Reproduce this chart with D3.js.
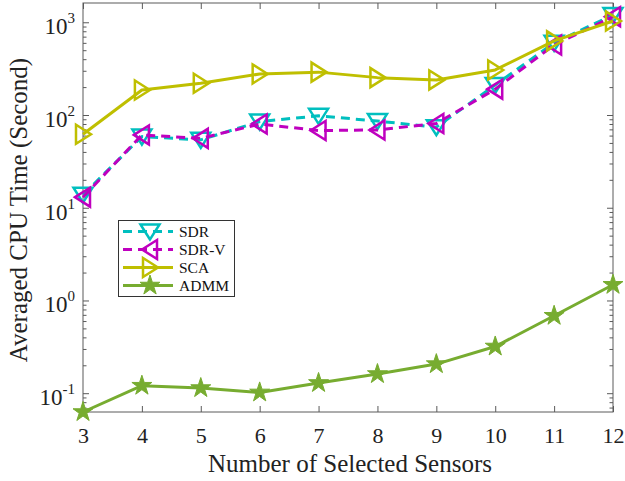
<!DOCTYPE html>
<html><head><meta charset="utf-8">
<script src="https://cdn.jsdelivr.net/npm/d3@7"></script>
<style>
html,body{margin:0;padding:0;background:#fff;}
svg{display:block;font-family:"Liberation Serif","Times New Roman",serif;}
</style></head>
<body><svg id="chart" width="625" height="481"></svg>
<script>
const categories = [3, 4, 5, 6, 7, 8, 9, 10, 11, 12];
const sdr   = [13.8, 58.5, 54, 85, 98, 86, 74, 211, 600, 1200];
const sdrV  = [13, 61, 56, 80, 68, 69, 81, 190, 569, 1150];
const sca   = [62, 186, 220, 277, 290, 253, 239, 306, 630, 1033];
const admm  = [0.0627, 0.1205, 0.1137, 0.102, 0.129, 0.161, 0.206, 0.319, 0.684, 1.476];
const seriesNames = ["SDR", "SDR-V", "SCA", "ADMM"];
const yDecades = [-1, 0, 1, 2, 3];

const svg = d3.select("#chart");
const L = 83, R = 613, T = 3, B = 412;
const x = d3.scaleLinear().domain([3, 12]).range([L, R]);
const y = d3.scaleLog().domain([0.0627, 1614]).range([B, T]);

const series = [
  {name: seriesNames[0], data: sdr,  color: "#00BFBF", dash: "9,6", marker: "down"},
  {name: seriesNames[1], data: sdrV, color: "#BF00BF", dash: "9,6", marker: "left"},
  {name: seriesNames[2], data: sca,  color: "#BFBF00", dash: null,  marker: "right"},
  {name: seriesNames[3], data: admm, color: "#77AC30", dash: null,  marker: "star"}
];

function markerPath(type) {
  if (type === "star") {
    const Ro = 10.5, Ri = Ro * 0.382; let pts = [];
    for (let i = 0; i < 10; i++) {
      const r = i % 2 ? Ri : Ro;
      const a = -Math.PI / 2 + i * Math.PI / 5;
      pts.push([r * Math.cos(a), r * Math.sin(a)]);
    }
    return "M" + pts.map(p => p.join(",")).join("L") + "Z";
  }
  const a = 8, b = 7, h = 9.5;
  let pts;
  if (type === "right") pts = [[a, 0], [-b, -h], [-b, h]];
  else if (type === "left") pts = [[-a, 0], [b, -h], [b, h]];
  else pts = [[0, a], [-h, -b], [h, -b]];
  return "M" + pts.map(p => p.join(",")).join("L") + "Z";
}

// axes box
const axisColor = "#5a5a5a";
svg.append("rect").attr("x", L).attr("y", T).attr("width", R - L).attr("height", B - T)
  .attr("fill", "none").attr("stroke", axisColor).attr("stroke-width", 1);

// x ticks (bottom & top, inward)
const xAxisB = d3.axisBottom(x).tickValues(categories).tickSizeInner(-6).tickSizeOuter(0).tickPadding(15).tickFormat(d3.format("d"));
const gxb = svg.append("g").attr("transform", `translate(0,${B})`).call(xAxisB);
gxb.select(".domain").remove();
gxb.selectAll("line").attr("stroke", axisColor);
gxb.selectAll("text").attr("font-size", 22).attr("fill", "#222").attr("font-family", "Liberation Serif");
const gxt = svg.append("g").attr("transform", `translate(0,${T})`).call(d3.axisTop(x).tickValues(categories).tickSizeInner(-6).tickSizeOuter(0).tickFormat(""));
gxt.select(".domain").remove();
gxt.selectAll("line").attr("stroke", axisColor);

// y ticks: major + minor, left & right
const majors = yDecades.map(e => Math.pow(10, e));
const minors = [];
[-2, -1, 0, 1, 2, 3].forEach(e => { for (let k = 2; k <= 9; k++) { const v = k * Math.pow(10, e); if (v >= y.domain()[0] && v <= y.domain()[1]) minors.push(v); } });
function yTicks(vals, len) {
  const g1 = svg.append("g").attr("transform", `translate(${L},0)`).call(d3.axisLeft(y).tickValues(vals).tickSizeInner(-len).tickSizeOuter(0).tickFormat(""));
  const g2 = svg.append("g").attr("transform", `translate(${R},0)`).call(d3.axisRight(y).tickValues(vals).tickSizeInner(-len).tickSizeOuter(0).tickFormat(""));
  [g1, g2].forEach(g => { g.select(".domain").remove(); g.selectAll("line").attr("stroke", axisColor); });
}
yTicks(majors, 6);
yTicks(minors, 3.5);

// y tick labels 10^e
yDecades.forEach(e => {
  const t = svg.append("text").attr("x", L - 8).attr("y", y(Math.pow(10, e)) + 12)
    .attr("text-anchor", "end").attr("font-size", 23).attr("fill", "#222");
  t.append("tspan").text("10");
  t.append("tspan").attr("font-size", 15).attr("dy", -11).text(String(e));
});

// axis labels
svg.append("text").attr("x", (L + R) / 2 + 2).attr("y", 472).attr("text-anchor", "middle")
  .attr("font-size", 25).attr("fill", "#222").text("Number of Selected Sensors");
svg.append("text").attr("transform", "translate(27,210) rotate(-90)").attr("text-anchor", "middle")
  .attr("font-size", 25).attr("fill", "#222").text("Averaged CPU Time (Second)");

// lines and markers
const line = d3.line().x((d, i) => x(categories[i])).y(d => y(d));
series.forEach(s => {
  const g = svg.append("g");
  g.append("path").attr("d", line(s.data)).attr("fill", "none").attr("stroke", s.color)
    .attr("stroke-width", 3).attr("stroke-dasharray", s.dash).attr("stroke-linejoin", "round");
  g.selectAll("path.m").data(s.data).enter().append("path").attr("class", "m")
    .attr("transform", (d, i) => `translate(${x(categories[i])},${y(d)})`)
    .attr("d", markerPath(s.marker))
    .attr("fill", s.marker === "star" ? s.color : "none")
    .attr("stroke", s.color).attr("stroke-width", s.marker === "star" ? 1 : 2.5).attr("stroke-linejoin", "miter");
});

// legend
const lg = svg.append("g");
lg.append("rect").attr("x", 118.5).attr("y", 220.5).attr("width", 116).attr("height", 76)
  .attr("fill", "#fff").attr("stroke", "#333").attr("stroke-width", 1);
const rowY = [231.5, 249.5, 267.5, 285.5];
series.forEach((s, i) => {
  lg.append("line").attr("x1", 123).attr("x2", 173).attr("y1", rowY[i]).attr("y2", rowY[i])
    .attr("stroke", s.color).attr("stroke-width", 3).attr("stroke-dasharray", s.dash);
  lg.append("path").attr("transform", `translate(150,${rowY[i]})`).attr("d", markerPath(s.marker))
    .attr("fill", s.marker === "star" ? s.color : "none").attr("stroke", s.color)
    .attr("stroke-width", s.marker === "star" ? 1 : 2.5);
  lg.append("text").attr("x", 179).attr("y", rowY[i] + 5).attr("font-size", 15.5).attr("fill", "#111").text(s.name);
});
</script></body></html>
